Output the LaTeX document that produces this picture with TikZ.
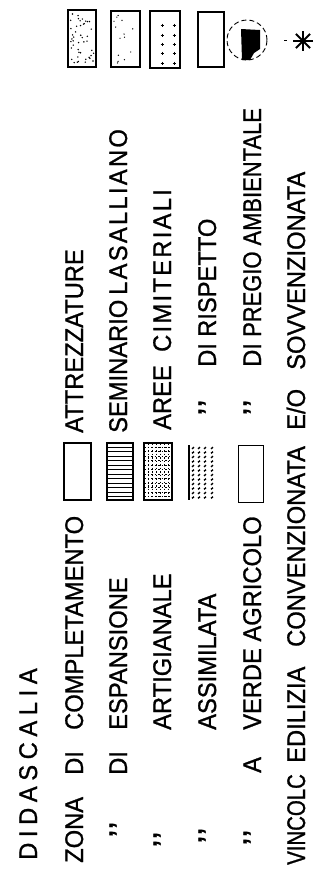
\documentclass[tikz,border=0pt]{standalone}
\usepackage{fontspec}
\setmainfont[FakeStretch=0.93,FakeBold=1]{Liberation Sans}
\newfontfamily\narrowfont[FakeStretch=0.86,FakeBold=1]{Liberation Sans}
\newfontfamily\vnarrowfont[FakeStretch=0.8,FakeBold=1]{Liberation Sans}
\newfontfamily\spacedfont[FakeStretch=0.93,FakeBold=1,LetterSpace=9]{Liberation Sans}
\newfontfamily\titlefont[FakeStretch=0.93,FakeBold=1,LetterSpace=22]{Liberation Sans}
\newcommand{\ditto}{{\bfseries ’\kern1.5pt’}}

\begin{document}
\begin{tikzpicture}[x=1pt, y=-1pt,
  every node/.style={font=\fontsize{25.5}{30}\selectfont},
  lbl/.style={rotate=90, anchor=base west, inner sep=0pt},
  box/.style={draw, line width=1.1pt},
  hatch/.style={line width=0.9pt}]
  \useasboundingbox (0,0) rectangle (326,871);

  % title
  \node[lbl] (title) at (37,860) {\titlefont DIDASCALIA};

  % zone, first half of each line
  \node[lbl] (zona) at (83,863) {ZONA};
  \node[lbl] (zonadi) at (83,775) {DI};
  \node[lbl] (compl) at (83,730) {COMPLETAMENTO};

  \node[lbl] (dittoespans) at (127,837) {\ditto};
  \node[lbl] (espansdi) at (127,775) {DI};
  \node[lbl] (espans) at (127,730) {ESPANSIONE};

  \node[lbl] (dittoartig) at (171,847) {\ditto};
  \node[lbl] (artig) at (171,730) {ARTIGIANALE};

  \node[lbl] (dittoassim) at (216,843) {\ditto};
  \node[lbl] (assim) at (216,730) {ASSIMILATA};

  \node[lbl] (dittoverde) at (261,845) {\ditto};
  \node[lbl] (verdea) at (261,773) {A};
  \node[lbl] (verde) at (261,730) {VERDE AGRICOLO};

  \node[lbl] (vincolo) at (305,865) {\vnarrowfont VINCOLC};
  \node[lbl] (edilizia) at (305,763) {EDILIZIA};
  \node[lbl] (convenz) at (305,647) {CONVENZIONATA};

  % second half of each line
  \node[lbl] (attrez) at (83,433) {ATTREZZATURE};
  \node[lbl] (semin) at (127,433) {SEMINARIO};
  \node[lbl] (lasal) at (127,295) {\spacedfont LASALLIANO};
  \node[lbl] (aree) at (171,430) {AREE};
  \node[lbl] (cimit) at (171,352) {\spacedfont CIMITERIALI};
  \node[lbl] (dittorisp) at (216,415) {\ditto};
  \node[lbl] (rispdi) at (216,367) {DI};
  \node[lbl] (risp) at (216,337) {RISPETTO};
  \node[lbl] (dittopregio) at (261,415) {\ditto};
  \node[lbl] (pregiodi) at (261,367) {DI};
  \node[lbl] (pregio) at (261,337) {\narrowfont PREGIO AMBIENTALE};
  \node[lbl] (eo) at (305,430) {E/O};
  \node[lbl] (sovvenz) at (305,370) {SOVVENZIONATA};

  % middle swatches
  \draw[box] (64,443) rectangle (91,500);
  \draw[box] (107,443) rectangle (133,500);
  \foreach \yy in {447,451.5,...,497} \draw[hatch] (107,\yy) -- (133,\yy);
  \draw[box] (144,443) rectangle (172,500);
  \foreach \xx in {148,152,...,168} \draw[hatch, dash pattern=on 1.5pt off 2pt] (\xx,443) -- (\xx,500);
  \foreach \yy in {447,451.5,...,497} \draw[hatch, dash pattern=on 1.5pt off 2pt] (144,\yy) -- (172,\yy);
  \draw[line width=1.1pt] (189,445) -- (189,500);
  \foreach \xx in {193,199,205,212}
    \foreach \yy in {448,452.5,...,498} \draw[line width=1.4pt] (\xx-1,\yy+0.8) -- (\xx+1,\yy-0.8);
  \draw[line width=0.8pt] (238,445) rectangle (263,502);

  % top swatches
  \draw[box] (68,10) rectangle (96,67);
  \pgfmathsetseed{7}
  \foreach \i in {1,...,45} \fill ({70+24*rnd},{13+51*rnd}) circle (0.8pt);
  \draw[box] (111,11) rectangle (140,67);
  \foreach \i in {1,...,14} \fill ({114+23*rnd},{15+48*rnd}) circle (0.7pt);
  \draw[box] (150,11) rectangle (180,68);
  \foreach \yy in {25,35,44,53,63}
    \foreach \xx in {162,174} {
      \draw[line width=0.8pt] (\xx-1.5,\yy) -- (\xx+1.5,\yy);
      \draw[line width=0.8pt] (\xx,\yy-1.5) -- (\xx,\yy+1.5);
    }
  \draw[box] (198,12) rectangle (224,67);
  \draw[dash pattern=on 5pt off 3pt, line width=0.9pt] (247,40) circle (20pt);
  \fill (241,29) -- (260,30) -- (260,49) -- (254,53) -- (250,60) -- (242,60) -- cycle;
  \draw[line width=1pt] (284,40) -- (287,40);
  \foreach \a in {0,45,90,135}
    \draw[line width=2pt] (303,41) +(\a:10pt) -- +(\a+180:10pt);
\end{tikzpicture}
\end{document}
